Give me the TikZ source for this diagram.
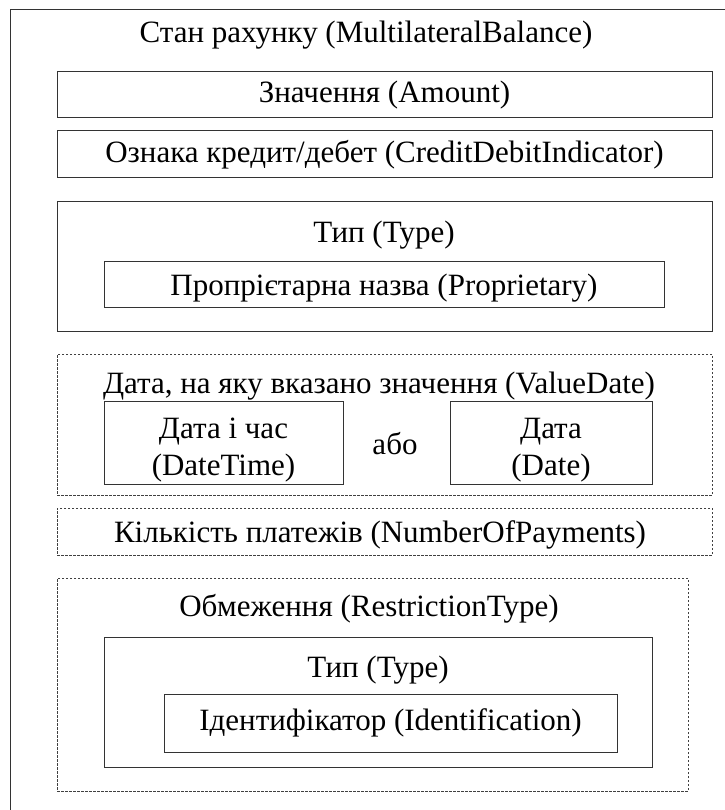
\documentclass[tikz,border=0pt]{standalone}
\usepackage{fontspec}
\setmainfont{Liberation Serif}
\begin{document}
\begin{tikzpicture}[x=1pt,y=-1pt,
	font=\fontsize{31}{37}\selectfont,
	box/.style={draw=black!80,line width=1pt,inner sep=0pt},
	optbox/.style={draw=black!75,line width=1pt,dash pattern=on 2.5pt off 1.5pt,inner sep=0pt}]
	\useasboundingbox (0,0) rectangle (724,810);
	\draw [black!80,line width=1pt](10,10) rectangle (740,830);
	\node (balance) at (366,35) {Стан рахунку (MultilateralBalance)};
	\node [box,minimum width=655pt,minimum height=46pt] (amount) at (384.5,95) {Значення (Amount)};
	\node [box,minimum width=655pt,minimum height=47pt] (indicator) at (384.5,154.5) {Ознака кредит/дебет (CreditDebitIndicator)};
	% type
	\node [box,minimum width=655pt,minimum height=129pt] (type) at (384.5,266.5) {};
	\node (typelbl) at (384,235) {Тип (Type)};
	\node [box,minimum width=560pt,minimum height=46pt] (proprietary) at (384,284) {};
	\node (proprietarylbl) at (384,288) {Пропрієтарна назва (Proprietary)};
	% value date
	\node [optbox,minimum width=655pt,minimum height=141pt] (valuedate) at (384.5,424.5) {};
	\node (valuedatelbl) at (379,386) {Дата, на яку вказано значення (ValueDate)};
	\node [box,minimum width=239pt,minimum height=83pt] (datetime) at (223.5,442.5) {};
	\node [align=center] (datetimelbl) at (223.5,450) {Дата і час\\(DateTime)};
	\node (or) at (395,444) {або};
	\node [box,minimum width=202pt,minimum height=83pt] (date) at (551,442.5) {};
	\node [align=center] (datelbl) at (551,450) {Дата\\(Date)};
	% payments
	\node [optbox,minimum width=655pt,minimum height=47pt] (payments) at (384.5,531.5) {};
	\node (paymentslbl) at (380,535) {Кількість платежів (NumberOfPayments)};
	% restriction
	\node [optbox,minimum width=631pt,minimum height=213pt] (restriction) at (372.5,684.5) {};
	\node (restrictionlbl) at (369,609) {Обмеження (RestrictionType)};
	\node [box,minimum width=548pt,minimum height=130pt] (rtype) at (378,702) {};
	\node (rtypelbl) at (378,670) {Тип (Type)};
	\node [box,minimum width=453pt,minimum height=58pt] (ident) at (390.5,723) {Ідентифікатор (Identification)};
\end{tikzpicture}
\end{document}
